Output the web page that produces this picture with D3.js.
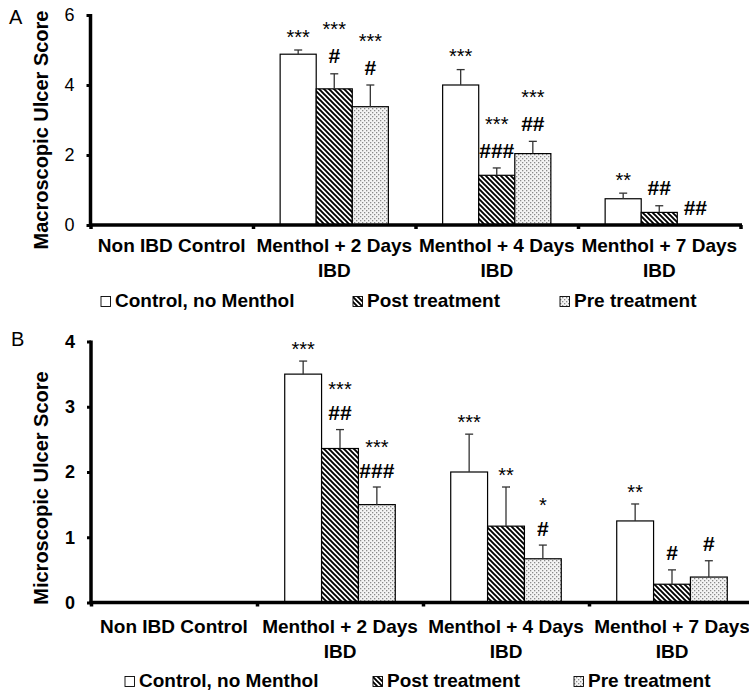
<!DOCTYPE html>
<html>
<head>
<meta charset="utf-8">
<script src="https://cdn.jsdelivr.net/npm/d3@7"></script>
<style>
  body { margin: 0; background: #fff; }
  svg { display: block; font-family: "Liberation Sans", Arial, sans-serif; }
</style>
</head>
<body>
<svg id="chart" width="749" height="691"></svg>
<script>
// categories and series
const categoryLines = [["Non IBD Control"], ["Menthol + 2 Days", "IBD"], ["Menthol + 4 Days", "IBD"], ["Menthol + 7 Days", "IBD"]];
const seriesNames = ["Control, no Menthol", "Post treatment", "Pre treatment"];

// panel A: macroscopic ulcer score (mean, +error)
const macroControl = [0, 4.88, 4.0, 0.75];
const macroPost = [0, 3.89, 1.42, 0.36];
const macroPre = [0, 3.38, 2.04, 0];
const macroControlErr = [0, 0.12, 0.44, 0.16];
const macroPostErr = [0, 0.43, 0.21, 0.19];
const macroPreErr = [0, 0.62, 0.35, 0];
const macroControlSig = ["", "***", "***", "**"];
const macroPostSig = ["", "***|#", "***|###", "##"];
const macroPreSig = ["", "***|#", "***|##", "##"];
const macroTicks = [0, 2, 4, 6];

// panel B: microscopic ulcer score
const microControl = [0, 3.5, 2.0, 1.25];
const microPost = [0, 2.36, 1.17, 0.28];
const microPre = [0, 1.5, 0.67, 0.39];
const microControlErr = [0, 0.2, 0.58, 0.26];
const microPostErr = [0, 0.29, 0.6, 0.22];
const microPreErr = [0, 0.27, 0.21, 0.25];
const microControlSig = ["", "***", "***", "**"];
const microPostSig = ["", "***|##", "**", "#"];
const microPreSig = ["", "***|###", "*|#", "#"];
const microTicks = [0, 1, 2, 3, 4];

const svg = d3.select('#chart');
const defs = svg.append('defs');

// hatch for post treatment
const hatch = defs.append('pattern')
    .attr('id', 'hatch').attr('patternUnits', 'userSpaceOnUse')
    .attr('width', 5).attr('height', 5);
hatch.append('rect').attr('width', 5).attr('height', 5).attr('fill', '#fff');
hatch.append('path')
    .attr('d', 'M-1,-1 L6,6 M-1,4 L1,6 M4,-1 L6,1')
    .attr('stroke', '#000').attr('stroke-width', 1.9);

// dots for pre treatment
const dots = defs.append('pattern')
    .attr('id', 'dots').attr('patternUnits', 'userSpaceOnUse')
    .attr('width', 4).attr('height', 4);
dots.append('rect').attr('width', 4).attr('height', 4).attr('fill', '#f4f4f4');
dots.append('rect').attr('x', 0).attr('y', 0).attr('width', 1.3).attr('height', 1.3).attr('fill', '#8a8a8a');
dots.append('rect').attr('x', 2).attr('y', 2).attr('width', 1.3).attr('height', 1.3).attr('fill', '#8a8a8a');

const fills = ['#fff', 'url(#hatch)', 'url(#dots)'];

function drawPanel(p) {
    const g = svg.append('g');
    const nCat = categoryLines.length;
    const x = d3.scaleBand().domain(d3.range(nCat)).range([p.x0, p.x0 + nCat * p.bandW]).padding(0);
    const pad = p.bandW * 0.167;
    const x1 = d3.scaleBand().domain(d3.range(seriesNames.length)).range([pad, p.bandW - pad]);
    const y = d3.scaleLinear().domain([0, p.yMax]).range([p.yZero, p.yTop]);

    const rows = [];
    p.means.forEach((vals, s) => vals.forEach((v, c) => {
        rows.push({s, c, v, e: p.errs[s][c], sig: p.sigs[s][c]});
    }));

    // bars
    g.selectAll('rect.bar').data(rows).join('rect')
        .attr('class', 'bar')
        .attr('x', d => x(d.c) + x1(d.s))
        .attr('y', d => y(d.v))
        .attr('width', x1.bandwidth())
        .attr('height', d => y(0) - y(d.v))
        .attr('fill', d => fills[d.s])
        .attr('stroke', '#000').attr('stroke-width', 1.2);

    // error bars (upper only)
    const eb = g.selectAll('g.err').data(rows.filter(d => d.e > 0)).join('g').attr('class', 'err')
        .attr('transform', d => `translate(${x(d.c) + x1(d.s) + x1.bandwidth() / 2},0)`);
    eb.append('line').attr('y1', d => y(d.v)).attr('y2', d => y(d.v + d.e))
        .attr('stroke', '#333').attr('stroke-width', 1.3);
    eb.append('line').attr('x1', -4).attr('x2', 4)
        .attr('y1', d => y(d.v + d.e)).attr('y2', d => y(d.v + d.e))
        .attr('stroke', '#333').attr('stroke-width', 1.3);

    // significance marks, stacked upward from the error bar top
    rows.filter(d => d.sig).forEach(d => {
        const lines = d.sig.split('|').reverse();
        const cx = x(d.c) + x1(d.s) + x1.bandwidth() / 2;
        lines.forEach((t, i) => {
            const center = y(d.v + d.e) - p.firstGap - i * p.lineGap;
            const star = t[0] === '*';
            const fs = star ? p.starSize : p.hashSize;
            g.append('text')
                .attr('x', cx)
                .attr('y', center + (star ? 0.58 : 0.36) * fs)
                .attr('text-anchor', 'middle')
                .attr('font-size', fs)
                .attr('font-weight', star ? 'normal' : 'bold')
                .text(t);
        });
    });

    // y axis
    const ya = g.append('g').attr('transform', `translate(${p.x0},0)`)
        .call(d3.axisLeft(y).tickValues(p.ticks).tickFormat(d3.format('d')).tickSize(4).tickSizeOuter(0).tickPadding(12));
    ya.select('.domain').attr('stroke-width', 3.5).attr('d', `M0,${p.yZero + 1.5}V${p.yTop - 1}`);
    ya.selectAll('.tick line').attr('stroke-width', 3);
    ya.selectAll('.tick text')
        .attr('font-size', 18).attr('font-family', '"Liberation Sans", Arial, sans-serif')
        .attr('font-weight', p.tickBold ? 'bold' : 'normal').attr('fill', '#000');

    // x axis with ticks at category boundaries
    const xl = d3.scaleLinear().domain([0, nCat]).range([p.x0, p.x0 + nCat * p.bandW]);
    const xa = g.append('g').attr('transform', `translate(0,${p.yZero})`)
        .call(d3.axisBottom(xl).tickValues(d3.range(nCat + 1)).tickFormat('').tickSize(4).tickSizeOuter(0));
    xa.select('.domain').attr('stroke-width', 3.5).attr('d', `M${p.x0 - 1.5},0H${p.x0 + nCat * p.bandW + 1.5}`);
    xa.selectAll('.tick line').attr('stroke-width', 3.5);

    // category labels
    const lab = g.selectAll('text.cat').data(categoryLines).join('text')
        .attr('class', 'cat')
        .attr('text-anchor', 'middle')
        .attr('font-size', 19).attr('font-weight', 'bold');
    lab.selectAll('tspan').data((d, i) => d.map(t => ({t, i}))).join('tspan')
        .attr('x', d => x(d.i) + p.bandW / 2)
        .attr('y', (d, j) => p.labelY + j * 24.5)
        .text(d => d.t);

    // y title
    g.append('text')
        .attr('transform', `translate(47.5,${p.titleY}) rotate(-90)`)
        .attr('text-anchor', 'middle')
        .attr('font-size', 20).attr('font-weight', 'bold')
        .text(p.title);

    // panel letter
    g.append('text').attr('x', p.letterX).attr('y', p.letterY)
        .attr('font-size', 20).text(p.letter);

    // legend
    const lg = g.selectAll('g.leg').data(seriesNames).join('g').attr('class', 'leg')
        .attr('transform', (d, i) => `translate(${p.legendX[i]},${p.legendY})`);
    lg.append('rect').attr('x', 0).attr('y', -10.5).attr('width', 9.5).attr('height', 10)
        .attr('fill', (d, i) => fills[i]).attr('stroke', '#000').attr('stroke-width', 0.9);
    lg.append('text').attr('x', 14).attr('y', 0)
        .attr('font-size', 19).attr('font-weight', 'bold').text(d => d);
}

drawPanel({
    x0: 90.5, bandW: 162.5, yTop: 15, yZero: 225, yMax: 6, ticks: macroTicks, tickBold: false,
    means: [macroControl, macroPost, macroPre], errs: [macroControlErr, macroPostErr, macroPreErr],
    sigs: [macroControlSig, macroPostSig, macroPreSig],
    firstGap: 18, lineGap: 31, starSize: 20, hashSize: 21,
    labelY: 252, title: 'Macroscopic Ulcer Score', titleY: 130,
    letter: 'A', letterX: 9, letterY: 24,
    legendX: [101, 353, 560], legendY: 307
});

drawPanel({
    x0: 91, bandW: 166, yTop: 341.5, yZero: 602.5, yMax: 4, ticks: microTicks, tickBold: true,
    means: [microControl, microPost, microPre], errs: [microControlErr, microPostErr, microPreErr],
    sigs: [microControlSig, microPostSig, microPreSig],
    firstGap: 17, lineGap: 28, starSize: 20, hashSize: 21,
    labelY: 633, title: 'Microscopic Ulcer Score', titleY: 488,
    letter: 'B', letterX: 11, letterY: 346,
    legendX: [125, 373, 574], legendY: 687
});
</script>
</body>
</html>
